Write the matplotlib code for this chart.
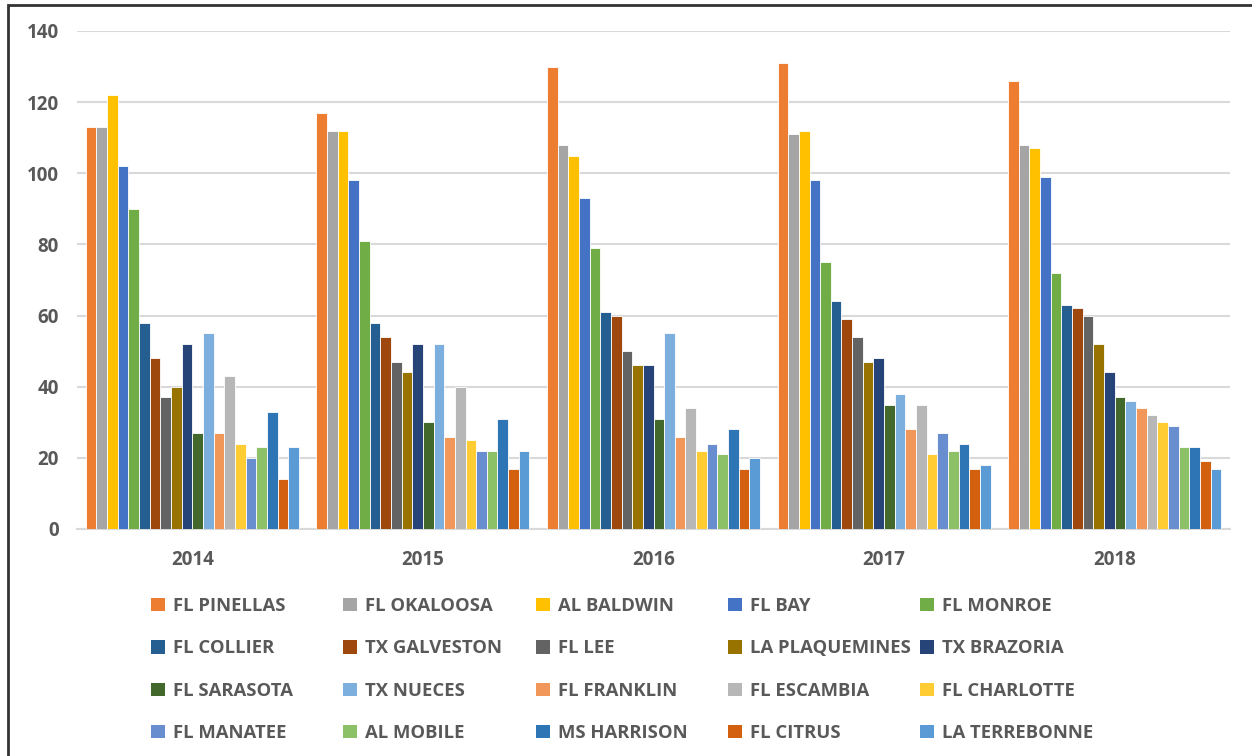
import matplotlib
matplotlib.use("Agg")
import matplotlib.pyplot as plt
import numpy as np
from matplotlib.patches import Patch, Rectangle

years = ["2014", "2015", "2016", "2017", "2018"]
counties = ["FL PINELLAS", "FL OKALOOSA", "AL BALDWIN", "FL BAY", "FL MONROE",
            "FL COLLIER", "TX GALVESTON", "FL LEE", "LA PLAQUEMINES", "TX BRAZORIA",
            "FL SARASOTA", "TX NUECES", "FL FRANKLIN", "FL ESCAMBIA", "FL CHARLOTTE",
            "FL MANATEE", "AL MOBILE", "MS HARRISON", "FL CITRUS", "LA TERREBONNE"]
colors = ["#ED7D31", "#A5A5A5", "#FFC000", "#4472C4", "#70AD47",
          "#255E91", "#9E480E", "#636363", "#997300", "#264478",
          "#43682B", "#7CAFDD", "#F1975A", "#B7B7B7", "#FFCD33",
          "#698ED0", "#8CC168", "#2E75B6", "#D2600F", "#5B9BD5"]

v2014 = [113, 113, 122, 102, 90, 58, 48, 37, 40, 52, 27, 55, 27, 43, 24, 20, 23, 33, 14, 23]
v2015 = [117, 112, 112, 98, 81, 58, 54, 47, 44, 52, 30, 52, 26, 40, 25, 22, 22, 31, 17, 22]
v2016 = [130, 108, 105, 93, 79, 61, 60, 50, 46, 46, 31, 55, 26, 34, 22, 24, 21, 28, 17, 20]
v2017 = [131, 111, 112, 98, 75, 64, 59, 54, 47, 48, 35, 38, 28, 35, 21, 27, 22, 24, 17, 18]
v2018 = [126, 108, 107, 99, 72, 63, 62, 60, 52, 44, 37, 36, 34, 32, 30, 29, 23, 23, 19, 17]
yticks = [0, 20, 40, 60, 80, 100, 120, 140]

data = np.array([v2014, v2015, v2016, v2017, v2018])  # years x counties

FONT = "Open Sans"
TXT = "#595959"

fig = plt.figure(figsize=(12.52, 7.56), dpi=100)
W, H = 1252, 756
ax = fig.add_axes([77 / W, (H - 529) / H, (1230 - 77) / W, (529 - 31) / H])

n = len(counties)
group = 0.924
bw = group / n
x = np.arange(len(years))
for i, (name, c) in enumerate(zip(counties, colors)):
    ax.bar(x - group / 2 + bw * (i + 0.5), data[:, i], width=bw, color=c,
           edgecolor="white", linewidth=0.6, label=name, zorder=3)

ax.set_xlim(-0.5, len(years) - 0.5)
ax.set_ylim(0, 140)
ax.set_yticks(yticks)
ax.set_xticks(x)
ax.set_xticklabels(years)
ax.grid(axis="y", color="#D9D9D9", linewidth=1.5, zorder=0)
for s in ["top", "right", "left"]:
    ax.spines[s].set_visible(False)
ax.spines["bottom"].set_color("#D9D9D9")
ax.spines["bottom"].set_linewidth(1.5)
ax.tick_params(axis="both", length=0, colors=TXT)
ax.tick_params(axis="y", pad=13)
ax.tick_params(axis="x", pad=15)
for lab in ax.get_xticklabels() + ax.get_yticklabels():
    lab.set_fontfamily(FONT)
    lab.set_fontweight("bold")
    lab.set_fontsize(13.5)
    lab.set_color(TXT)

# legend: 5 columns, row-major order, equal column spacing
col_x = [151, 343, 536, 728, 920]
for c in range(5):
    idx = [r * 5 + c for r in range(4)]
    handles = [Patch(facecolor=colors[i], edgecolor="none") for i in idx]
    labels = [counties[i] for i in idx]
    fig.legend(handles, labels, loc="upper left",
               bbox_to_anchor=(col_x[c] / W, 1 - 597 / H),
               frameon=False, ncol=1, handlelength=0.75, handleheight=0.75,
               handletextpad=0.45, labelspacing=1.32, borderaxespad=0,
               borderpad=0,
               prop={"family": FONT, "weight": "bold", "size": 13.3},
               labelcolor=TXT)

# outer frame (image crop shows left and top border)
fig.add_artist(Rectangle((8 / W, -0.1), 1.2, (H - 5) / H + 0.1, transform=fig.transFigure,
                         fill=False, edgecolor="#333333", linewidth=2))

fig.savefig("out.png", dpi=100, facecolor="white")
